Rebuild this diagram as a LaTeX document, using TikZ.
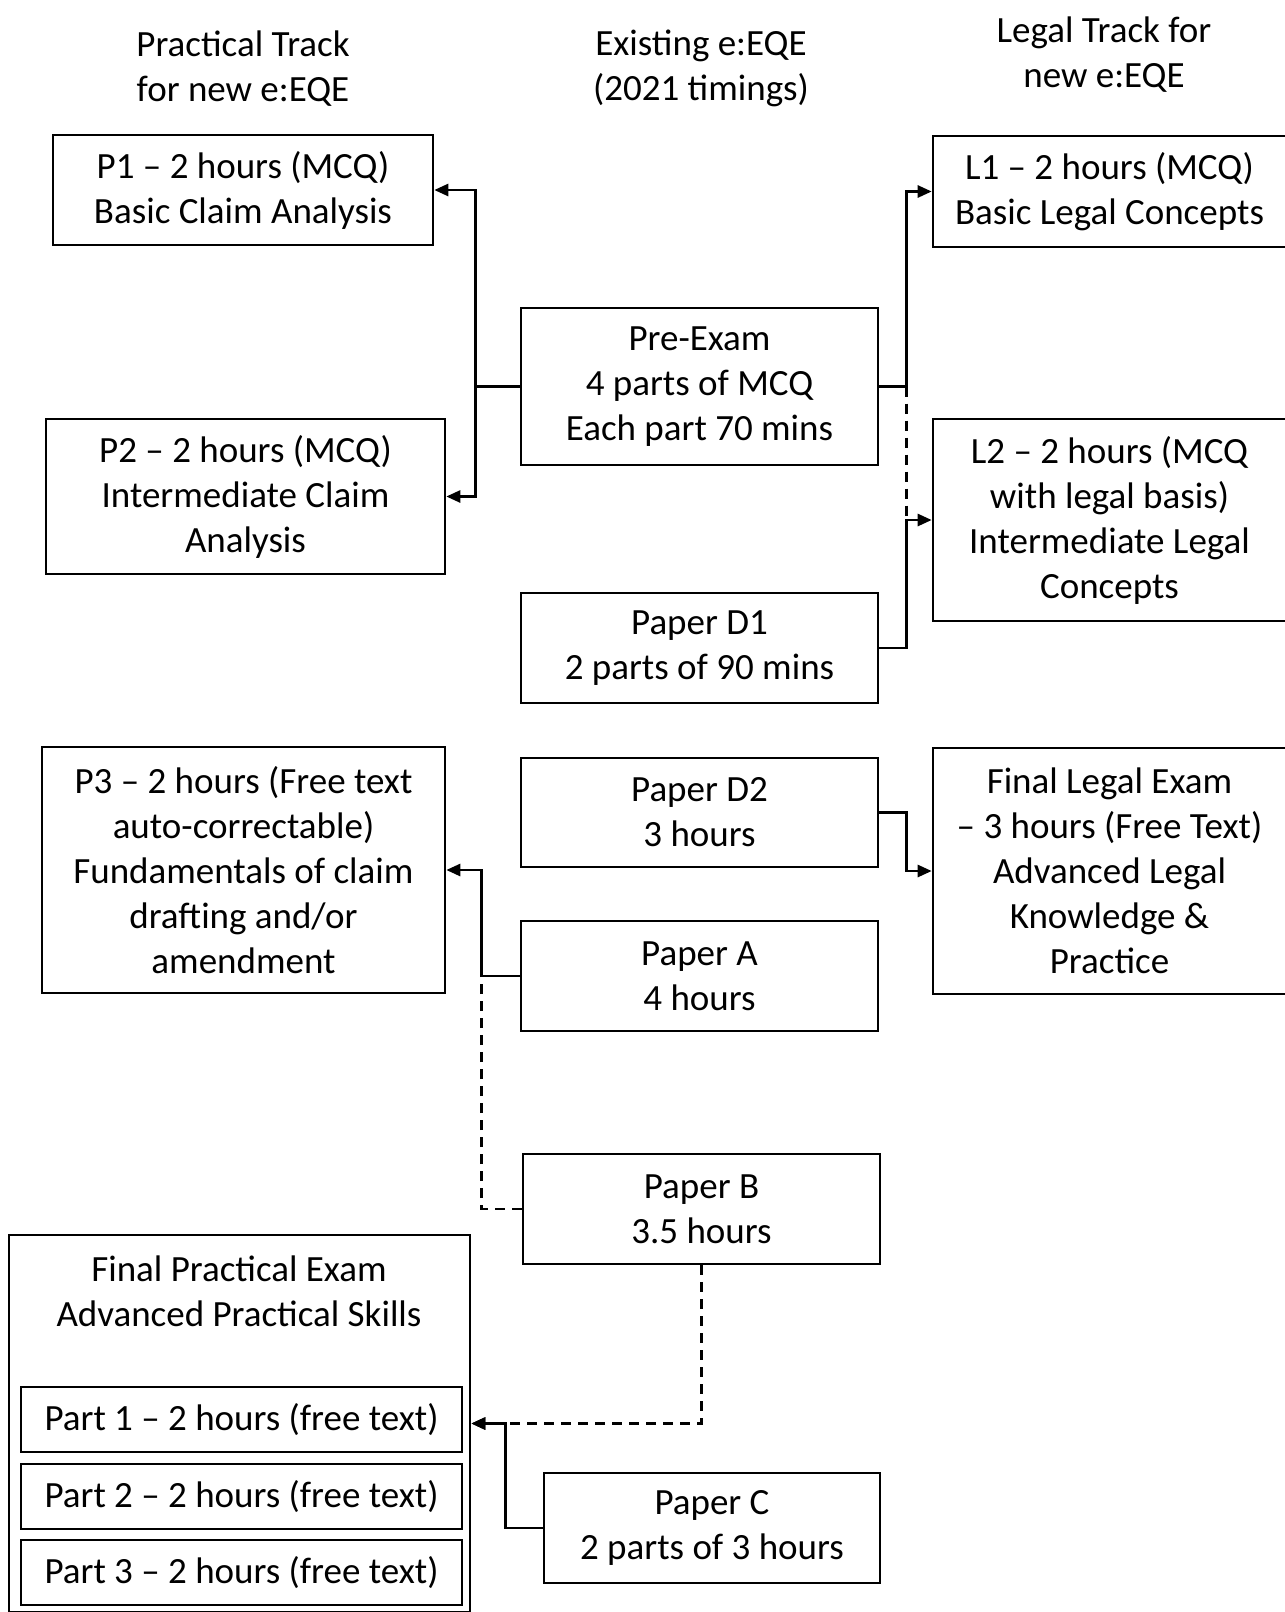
\documentclass[tikz,border=0pt]{standalone}
\usepackage{fontspec}
\setmainfont{Carlito}
\usetikzlibrary{arrows.meta}

\tikzset{
  box/.style 2 args={draw, line width=1.3pt, inner sep=0pt,
    minimum width=#1*0.5pt, minimum height=#2*0.5pt},
  link/.style={line width=1.3pt, -{Triangle[length=7pt,width=6pt]}},
  dlink/.style={link, dash pattern=on 5pt off 3.5pt},
  dline/.style={line width=1.3pt, dash pattern=on 5pt off 3.5pt}
}

\begin{document}
\begin{tikzpicture}[x=0.5pt, y=-0.5pt,
  every node/.style={font=\fontsize{18.5}{22.5}\selectfont, align=center}]
\useasboundingbox (0,0) rectangle (1285,1612);

% column headings
\node (hp) at (243,69) {Practical Track\\for new e:EQE};
\node (he) at (701,68) {Existing e:EQE\\(2021 timings)};
\node (hl) at (1104,55) {Legal Track for\\new e:EQE};

% practical track
\node[box={380}{110}] (p1) at (243,190) {P1 -- 2 hours (MCQ)\\Basic Claim Analysis};
\node[box={399}{155}] (p2) at (245.5,496.5) {P2 -- 2 hours (MCQ)\\Intermediate Claim\\Analysis};
\node[box={403}{246}] (p3) at (243.5,870) {P3 -- 2 hours (Free text\\auto-correctable)\\Fundamentals of claim\\drafting and/or\\amendment};

% final practical exam with its three parts
\node[box={461}{377}] (fp) at (239.5,1423.5) {};
\node (fpt) at (239,1291) {Final Practical Exam\\Advanced Practical Skills};
\node[box={441}{65}] (pt1) at (241.5,1419.5) {Part 1 -- 2 hours (free text)};
\node[box={441}{65}] (pt2) at (241.5,1496.5) {Part 2 -- 2 hours (free text)};
\node[box={441}{65}] (pt3) at (241.5,1572.5) {Part 3 -- 2 hours (free text)};

% existing papers
\node[box={357}{157}] (pre) at (699.5,386.5) {Pre-Exam\\4 parts of MCQ\\Each part 70 mins};
\node[box={357}{110}] (d1) at (699.5,648) {Paper D1\\2 parts of 90 mins};
\node[box={357}{109}] (d2) at (699.5,812.5) {Paper D2\\3 hours};
\node[box={357}{110}] (a) at (699.5,976) {Paper A\\4 hours};
\node[box={357}{110}] (b) at (701.5,1209) {Paper B\\3.5 hours};
\node[box={336}{110}] (c) at (712,1528) {Paper C\\2 parts of 3 hours};

% legal track (right edges run off the page)
\node[box={353}{111}] (l1) at (1109.5,191.5) {L1 -- 2 hours (MCQ)\\Basic Legal Concepts};
\node[box={353}{202}] (l2) at (1109.5,520) {L2 -- 2 hours (MCQ\\with legal basis)\\Intermediate Legal\\Concepts};
\node[box={353}{246}] (fl) at (1109.5,871) {Final Legal Exam\\-- 3 hours (Free Text)\\Advanced Legal\\Knowledge \&\\Practice};

% junctions
\coordinate (jl) at ([xshift=-22pt]pre.west);
\coordinate (jr) at ([xshift=13.5pt]pre.east);
\coordinate (ja) at ([xshift=-19pt]a.west);
\coordinate (jc) at ([xshift=-18.5pt]c.west);

% Pre-Exam to P1, P2 and L1
\draw[line width=1.3pt] (pre.west) -- (jl);
\draw[link] (jl) |- (p1.east);
\draw[link] (jl) |- (p2.east);
\draw[link] (pre.east) -- (jr) |- (l1.west);
\draw[dline] (jr) -- (jr |- l2.west);

% D1 and D2 to the legal track
\draw[link] (d1.east) -- (jr |- d1.east) |- (l2.west);
\draw[link] (d2.east) -- (jr |- d2.east) |- (fl.west);

% A and B to P3
\draw[link] (a.west) -- (ja) |- (p3.east);
\draw[dline] (b.west) -| (ja |- p3.east);

% B and C to the final practical exam
\draw[dlink] (b.south) |- (fp.east);
\draw[link] (c.west) -- (jc) |- (fp.east);
\end{tikzpicture}
\end{document}
